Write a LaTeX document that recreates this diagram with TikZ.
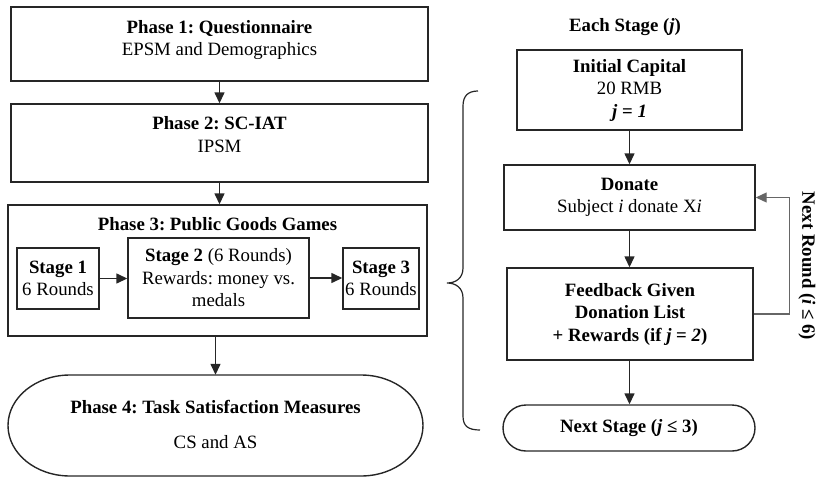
\documentclass[tikz,border=0pt]{standalone}
\usepackage{fontspec}
\setmainfont{Liberation Serif}
\usetikzlibrary{arrows.meta}
\frenchspacing
\begin{document}
\begin{tikzpicture}[x=1pt,y=-1pt,
  every node/.style={font=\fontsize{18.8}{22.5}\selectfont\frenchspacing, inner sep=0pt},
  box/.style={draw=black!85, line width=1.4pt, align=center},
  arr/.style={draw=black!85, line width=1.4pt, -{Triangle[length=11pt,width=10pt]}},
  loopline/.style={draw=black!60, line width=1.1pt, -{Triangle[length=11pt,width=10pt]}},
  txt/.style={anchor=base, align=center}]
\useasboundingbox (0,0) rectangle (817,479);

% Left column
\node[box, minimum width=417pt, minimum height=74pt] (p1) at (219.5,44) {};
\node[txt] (p1a) at (219.5,33) {\textbf{Phase 1: Questionnaire}};
\node[txt] (p1b) at (219.5,55) {EPSM and Demographics};

\node[box, minimum width=417pt, minimum height=78pt] (p2) at (219.5,143) {};
\node[txt] (p2a) at (219.5,129) {\textbf{Phase 2: SC-IAT}};
\node[txt] (p2b) at (219.5,152) {IPSM};

\node[box, minimum width=419pt, minimum height=131pt] (p3) at (217.5,270.5) {};
\node[txt] (p3a) at (217.5,230) {\textbf{Phase 3: Public Goods Games}};

\node[box, minimum width=82pt, minimum height=61pt] (s1) at (58,278.5) {\textbf{Stage 1}\\6 Rounds};
\node[box, minimum width=181pt, minimum height=80pt] (s2) at (218.5,278) {\textbf{Stage 2} (6 Rounds)\\Rewards: money vs.\\medals};
\node[box, minimum width=76pt, minimum height=61pt] (s3) at (381,278.5) {\textbf{Stage 3}\\6 Rounds};

\node[minimum width=415pt, minimum height=101pt] (p4) at (215.5,425.5) {};
\draw[box] (70,375) -- (361,375) arc[start angle=-90, end angle=90, x radius=62, y radius=50.5]
  -- (70,476) arc[start angle=90, end angle=270, x radius=62, y radius=50.5] -- cycle;
\node[txt] (p4a) at (215.5,413) {\textbf{Phase 4: Task Satisfaction Measures}};
\node[txt] (p4b) at (215.5,448) {CS and AS};

\draw[arr] (p1.south) -- (p2.north);
\draw[arr] (p2.south) -- (p2.south |- p3.north);
\draw[arr] (s1.east) -- (s1.east -| s2.west);
\draw[arr] (s2.east) -- (s2.east -| s3.west);
\draw[arr] (p4.north |- p3.south) -- (p4.north);

% Brace
\draw[draw=black!85, line width=1.2pt]
  (478,91) .. controls (468,91) and (463,96) .. (463,106) -- (463,268)
  .. controls (463,278) and (456,283) .. (447,283)
  .. controls (456,283) and (463,288) .. (463,298) -- (463,416)
  .. controls (463,426) and (468,430) .. (480,430);

% Right column
\node[txt] (ttl) at (625,31) {\textbf{Each Stage (\textit{j})}};
\node[box, minimum width=225pt, minimum height=80pt] (ic) at (629.5,90) {\textbf{Initial Capital}\\20 RMB\\\textbf{\textit{j} = \textit{1}}};
\node[box, minimum width=251pt, minimum height=65pt] (dn) at (629.5,197.5) {\textbf{Donate}\\Subject \textit{i} donate X\textit{i}};
\node[box, minimum width=246pt, minimum height=92pt] (fb) at (630,314) {\textbf{Feedback Given}\\\textbf{Donation List}\\\textbf{+ Rewards (if \textit{j} = \textit{2})}};
\node[box, minimum width=252pt, minimum height=46pt, rounded corners=23pt] (ns) at (629,428) {\textbf{Next Stage (\textit{j} ≤ 3)}};

\draw[arr] (ic.south) -- (ic.south |- dn.north);
\draw[arr] (dn.south -| ic.south) -- (ic.south |- fb.north);
\draw[arr] (fb.south -| ic.south) -- (ic.south |- ns.north);
\draw[loopline] (fb.east) -- ([xshift=36pt]fb.east) |- (dn.east);
\node[rotate=-90, font=\fontsize{18.8}{22.5}\selectfont\bfseries] (nr) at (807,266) {Next Round (\textit{i} ≤ 6)};
\end{tikzpicture}
\end{document}
